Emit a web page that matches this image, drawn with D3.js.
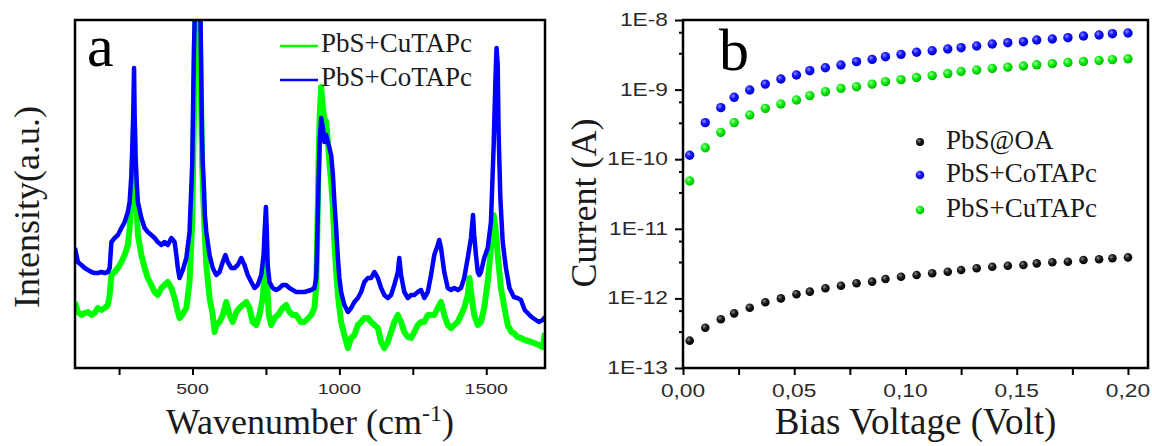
<!DOCTYPE html>
<html>
<head>
<meta charset="utf-8">
<script src="https://cdn.jsdelivr.net/npm/d3@7"></script>
<style>
  html, body { margin: 0; padding: 0; background: #fff; }
  svg { display: block; }
</style>
</head>
<body>
<svg id="chart" width="1152" height="446"></svg>
<script>
// ---------- Panel a: Raman spectra, [wavenumber (cm^-1), intensity (a.u.)] ----------
const cuTAPcSpectrum = [
  [100,66],[110,56],[122,53],[133,55],[144,56],[156,53],[167,55],[178,60],[190,58],[201,60],
  [212,63],[218,73],[224,93],[235,96],[246,100],[258,106],[269,113],[280,123],[286,140],[292,166],
  [295,186],[298,220],[301,246],[303,213],[306,186],[310,160],[314,133],[326,113],[337,100],[348,90],
  [360,83],[371,76],[382,73],[394,80],[405,83],[416,86],[428,80],[439,70],[450,56],[456,50],
  [467,54],[479,60],[490,86],[499,146],[505,253],[510,355],[517,520],[524,355],[530,253],[533,203],
  [538,160],[542,133],[547,103],[558,70],[569,53],[575,36],[581,43],[592,46],[603,53],[615,66],
  [626,53],[637,46],[649,56],[660,60],[671,63],[683,66],[694,60],[705,46],[717,43],[728,53],
  [739,70],[746,98],[750,106],[753,88],[760,53],[768,43],[779,50],[791,53],[807,60],[819,63],
  [830,56],[841,53],[853,53],[868,46],[881,46],[904,53],[915,60],[921,80],[924,120],[929,203],
  [933,253],[938,281],[944,260],[949,250],[955,246],[961,226],[966,206],[972,186],[978,160],[983,126],
  [989,96],[995,73],[1000,60],[1006,46],[1017,33],[1029,20],[1040,30],[1051,33],[1063,43],[1074,46],
  [1085,50],[1097,50],[1108,46],[1119,43],[1131,40],[1142,26],[1153,20],[1165,26],[1176,36],[1187,46],
  [1199,53],[1210,46],[1221,36],[1233,31],[1244,30],[1255,36],[1267,43],[1278,46],[1289,46],[1301,53],
  [1312,53],[1323,53],[1335,60],[1346,66],[1357,53],[1369,43],[1380,40],[1391,43],[1403,46],[1414,53],
  [1425,60],[1437,73],[1443,90],[1448,76],[1459,53],[1471,43],[1482,46],[1493,60],[1505,86],[1516,120],
  [1525,153],[1533,136],[1539,113],[1550,80],[1562,60],[1573,43],[1586,36],[1594,35],[1606,31],[1618,30],
  [1631,28],[1654,26],[1679,23],[1692,21],[1700,35]
];

const coTAPcSpectrum = [
  [100,120],[110,106],[122,103],[133,100],[144,98],[156,96],[167,95],[178,95],[190,96],[201,95],
  [212,96],[218,100],[224,126],[235,130],[246,133],[258,140],[269,146],[280,156],[286,166],[292,193],
  [295,220],[298,250],[301,300],[303,253],[306,213],[310,186],[314,166],[326,150],[337,140],[348,136],
  [360,133],[371,130],[382,126],[394,123],[405,126],[416,123],[428,130],[439,126],[445,113],[450,100],
  [456,90],[467,98],[479,110],[490,136],[499,203],[505,320],[508,355],[517,480],[527,355],[532,236],
  [535,203],[539,180],[542,153],[547,136],[558,113],[569,100],[581,93],[592,96],[603,106],[612,113],
  [620,106],[632,100],[643,100],[654,103],[666,110],[677,103],[688,93],[700,86],[711,80],[722,83],
  [734,93],[742,113],[746,140],[750,161],[753,136],[756,103],[762,86],[773,80],[785,78],[796,80],
  [807,83],[819,83],[830,80],[841,78],[853,76],[881,76],[904,78],[915,80],[921,90],[924,120],
  [929,186],[933,226],[938,250],[944,240],[949,226],[955,233],[961,226],[966,220],[972,213],[978,193],
  [983,166],[989,140],[995,110],[1000,90],[1006,76],[1017,63],[1029,56],[1040,60],[1051,66],[1063,70],
  [1074,76],[1085,86],[1097,90],[1108,90],[1119,96],[1131,90],[1142,80],[1153,73],[1165,70],[1176,73],
  [1187,83],[1199,96],[1204,110],[1210,93],[1221,76],[1233,70],[1244,73],[1255,73],[1267,76],[1278,78],
  [1289,70],[1301,76],[1312,93],[1323,113],[1335,123],[1340,128],[1346,120],[1357,96],[1369,80],[1380,78],
  [1391,80],[1403,78],[1414,80],[1425,90],[1437,110],[1448,130],[1455,153],[1459,133],[1465,113],[1471,96],
  [1476,93],[1482,96],[1493,110],[1505,120],[1516,146],[1525,220],[1531,286],[1535,320],[1539,303],[1542,236],
  [1548,170],[1556,126],[1567,100],[1579,80],[1594,71],[1606,70],[1618,68],[1631,58],[1654,51],[1679,46],
  [1692,48],[1700,51]
];

const ramanTicks = [250, 500, 750, 1000, 1250, 1500];
const ramanTickLabels = ["", "500", "", "1000", "", "1500"];

// ---------- Panel b: current vs bias voltage ----------
const biasVoltage = [
  0.003, 0.010, 0.017, 0.023, 0.030, 0.037, 0.044, 0.051, 0.057, 0.064,
  0.071, 0.078, 0.085, 0.091, 0.098, 0.105, 0.112, 0.119, 0.125, 0.132,
  0.139, 0.146, 0.153, 0.159, 0.166, 0.173, 0.180, 0.187, 0.193, 0.200
];
const currentOA = [
  2.47e-13, 3.79e-13, 5.01e-13, 6.10e-13, 7.35e-13, 8.79e-13, 1.00e-12, 1.15e-12, 1.25e-12, 1.40e-12,
  1.52e-12, 1.65e-12, 1.74e-12, 1.90e-12, 2.05e-12, 2.17e-12, 2.30e-12, 2.42e-12, 2.56e-12, 2.71e-12,
  2.85e-12, 2.95e-12, 3.02e-12, 3.19e-12, 3.30e-12, 3.37e-12, 3.56e-12, 3.65e-12, 3.77e-12, 3.89e-12
];
const currentCoTAPc = [
  1.14e-10, 3.35e-10, 5.50e-10, 7.75e-10, 9.87e-10, 1.20e-9, 1.42e-9, 1.62e-9, 1.87e-9, 2.06e-9,
  2.26e-9, 2.52e-9, 2.72e-9, 2.97e-9, 3.21e-9, 3.44e-9, 3.62e-9, 3.83e-9, 4.00e-9, 4.23e-9,
  4.52e-9, 4.72e-9, 4.88e-9, 5.16e-9, 5.33e-9, 5.57e-9, 5.89e-9, 6.09e-9, 6.36e-9, 6.50e-9
];
const currentCuTAPc = [
  4.86e-11, 1.46e-10, 2.43e-10, 3.35e-10, 4.32e-10, 5.38e-10, 6.21e-10, 7.10e-10, 8.18e-10, 9.33e-10,
  1.04e-9, 1.10e-9, 1.20e-9, 1.30e-9, 1.39e-9, 1.49e-9, 1.59e-9, 1.70e-9, 1.82e-9, 1.91e-9,
  2.01e-9, 2.10e-9, 2.18e-9, 2.27e-9, 2.36e-9, 2.45e-9, 2.53e-9, 2.62e-9, 2.70e-9, 2.77e-9
];
const currentTicks = [1e-13, 1e-12, 1e-11, 1e-10, 1e-9, 1e-8];
const currentTickLabels = ["1E-13", "1E-12", "1E-11", "1E-10", "1E-9", "1E-8"];
const currentMinorTicks = [
  3.33e-13, 6.67e-13, 3.33e-12, 6.67e-12, 3.33e-11, 6.67e-11,
  3.33e-10, 6.67e-10, 3.33e-9, 6.67e-9
];
const voltageTicks = [0, 0.025, 0.05, 0.075, 0.10, 0.125, 0.15, 0.175, 0.20];
const voltageTickLabels = ["0,00", "", "0,05", "", "0,10", "", "0,15", "", "0,20"];

// ---------- layout ----------
const svg = d3.select("#chart");
const serif = "'Liberation Serif', 'Times New Roman', Times, serif";
const sans = "'Liberation Sans', Arial, Helvetica, sans-serif";
const ink = "#1a1a1a";
const GREEN = "#00ff00", BLUE = "#0000ff";

const A = { left: 75, right: 545, top: 20, bottom: 368 };
const B = { left: 683, right: 1148, top: 20, bottom: 368 };

const xA = d3.scaleLinear().domain([100, 1700]).range([A.left, A.right]);
const yA = d3.scaleLinear().domain([0, 348]).range([A.bottom, A.top]);
const xB = d3.scaleLinear().domain([0, 0.209]).range([B.left, B.right]);
const yB = d3.scaleLog().domain([1e-13, 1e-8]).range([B.bottom, B.top]);

const defs = svg.append("defs");
defs.append("clipPath").attr("id", "clipA")
  .append("rect").attr("x", A.left).attr("y", A.top)
  .attr("width", A.right - A.left).attr("height", A.bottom - A.top);

// shaded ball markers
function ballGradient(id, hi, mid, lo) {
  const g = defs.append("radialGradient").attr("id", id)
    .attr("cx", "38%").attr("cy", "35%").attr("r", "65%");
  g.append("stop").attr("offset", "0%").attr("stop-color", hi);
  g.append("stop").attr("offset", "45%").attr("stop-color", mid);
  g.append("stop").attr("offset", "100%").attr("stop-color", lo);
}
ballGradient("ballBlack", "#8a8a8a", "#1c1c1c", "#000");
ballGradient("ballBlue", "#8c8cff", "#1515ff", "#0000c8");
ballGradient("ballGreen", "#a8ffa8", "#10f010", "#00b800");

// tick labels use a wide sans face: stretch horizontally about the anchor
function stretchedText(g, x, y, str, size, sx, anchor) {
  return g.append("text")
    .attr("transform", `translate(${x},${y}) scale(${sx},1)`)
    .attr("text-anchor", anchor)
    .attr("font-family", sans).attr("font-size", size)
    .attr("fill", "#2a2a2a").text(str);
}

// ================= Panel a =================
const gA = svg.append("g");

const line = d3.line().x(d => xA(d[0])).y(d => yA(d[1]));
const spectra = gA.append("g").attr("clip-path", "url(#clipA)");
spectra.append("path").datum(cuTAPcSpectrum)
  .attr("d", line).attr("fill", "none")
  .attr("stroke", GREEN).attr("stroke-width", 6).attr("stroke-linejoin", "round");
spectra.append("path").datum(coTAPcSpectrum)
  .attr("d", line).attr("fill", "none")
  .attr("stroke", BLUE).attr("stroke-width", 4.5).attr("stroke-linejoin", "round");

// x axis ticks
const axA = gA.append("g").attr("transform", `translate(0,${A.bottom})`)
  .call(d3.axisBottom(xA).tickValues(ramanTicks).tickSize(7).tickFormat(""));
axA.select(".domain").remove();
axA.selectAll(".tick line").attr("stroke", "#000").attr("stroke-width", 2);
ramanTicks.forEach((t, i) => {
  if (ramanTickLabels[i]) stretchedText(gA, xA(t), 394, ramanTickLabels[i], 15, 1.3, "middle");
});

gA.append("rect").attr("x", A.left).attr("y", A.top)
  .attr("width", A.right - A.left).attr("height", A.bottom - A.top)
  .attr("fill", "none").attr("stroke", "#000").attr("stroke-width", 2.5);

// titles
const xtA = gA.append("text").attr("x", (A.left + A.right) / 2).attr("y", 434)
  .attr("text-anchor", "middle").attr("font-family", serif).attr("font-size", 36).attr("fill", ink);
xtA.append("tspan").text("Wavenumber (cm");
xtA.append("tspan").attr("font-size", 24).attr("dy", -13).text("-1");
xtA.append("tspan").attr("dy", 13).text(")");

gA.append("text").attr("transform", "translate(39,207) rotate(-90)")
  .attr("text-anchor", "middle").attr("font-family", serif).attr("font-size", 36)
  .attr("fill", ink).text("Intensity(a.u.)");

gA.append("text").attr("x", 87).attr("y", 66).attr("font-family", serif)
  .attr("font-size", 60).attr("fill", "#000").text("a");

// legend
const legA = [["PbS+CuTAPc", GREEN, 46], ["PbS+CoTAPc", BLUE, 80]];
legA.forEach(([label, color, y]) => {
  gA.append("line").attr("x1", 280).attr("x2", 318).attr("y1", y).attr("y2", y)
    .attr("stroke", color).attr("stroke-width", 2.5);
  gA.append("text").attr("x", 321).attr("y", y + 6).attr("font-family", serif)
    .attr("font-size", 27).attr("fill", ink).text(label);
});

// ================= Panel b =================
const gB = svg.append("g");

const axBx = gB.append("g").attr("transform", `translate(0,${B.bottom})`)
  .call(d3.axisBottom(xB).tickValues(voltageTicks).tickSize(7).tickFormat(""));
axBx.select(".domain").remove();
axBx.selectAll(".tick line").attr("stroke", "#000").attr("stroke-width", 2);
voltageTicks.forEach((t, i) => {
  if (voltageTickLabels[i]) stretchedText(gB, xB(t), 397, voltageTickLabels[i], 17.5, 1.3, "middle");
});

const axBy = gB.append("g").attr("transform", `translate(${B.left},0)`)
  .call(d3.axisLeft(yB).tickValues(currentTicks).tickSize(8).tickFormat(""));
axBy.select(".domain").remove();
axBy.selectAll(".tick line").attr("stroke", "#000").attr("stroke-width", 2);
const axByMinor = gB.append("g").attr("transform", `translate(${B.left},0)`)
  .call(d3.axisLeft(yB).tickValues(currentMinorTicks).tickSize(4).tickFormat(""));
axByMinor.select(".domain").remove();
axByMinor.selectAll(".tick line").attr("stroke", "#000").attr("stroke-width", 2);
currentTicks.forEach((t, i) => {
  stretchedText(gB, 668, yB(t) + 6, currentTickLabels[i], 17.5, 1.3, "end");
});

gB.append("rect").attr("x", B.left).attr("y", B.top)
  .attr("width", B.right - B.left).attr("height", B.bottom - B.top)
  .attr("fill", "none").attr("stroke", "#000").attr("stroke-width", 2.5);

const seriesB = [
  { values: currentOA, fill: "url(#ballBlack)", r: 4.3 },
  { values: currentCoTAPc, fill: "url(#ballBlue)", r: 4.7 },
  { values: currentCuTAPc, fill: "url(#ballGreen)", r: 4.7 }
];
seriesB.forEach(s => {
  gB.append("g").selectAll("circle")
    .data(biasVoltage.map((v, i) => [v, s.values[i]]))
    .join("circle")
    .attr("cx", d => xB(d[0])).attr("cy", d => yB(d[1]))
    .attr("r", s.r).attr("fill", s.fill);
});

// titles
gB.append("text").attr("x", (B.left + B.right) / 2).attr("y", 434)
  .attr("text-anchor", "middle").attr("font-family", serif).attr("font-size", 37)
  .attr("fill", ink).text("Bias Voltage (Volt)");
gB.append("text").attr("transform", "translate(596,203) rotate(-90)")
  .attr("text-anchor", "middle").attr("font-family", serif).attr("font-size", 36)
  .attr("fill", ink).text("Current (A)");
gB.append("text").attr("x", 719).attr("y", 70).attr("font-family", serif)
  .attr("font-size", 60).attr("fill", "#000").text("b");

// legend
const legB = [
  ["PbS@OA", "url(#ballBlack)", 142, 4.0],
  ["PbS+CoTAPc", "url(#ballBlue)", 175, 4.3],
  ["PbS+CuTAPc", "url(#ballGreen)", 210, 4.3]
];
legB.forEach(([label, fill, y, r]) => {
  gB.append("circle").attr("cx", 920).attr("cy", y).attr("r", r).attr("fill", fill);
  gB.append("text").attr("x", 946).attr("y", y + 7).attr("font-family", serif)
    .attr("font-size", 27).attr("fill", ink).text(label);
});
</script>
</body>
</html>
